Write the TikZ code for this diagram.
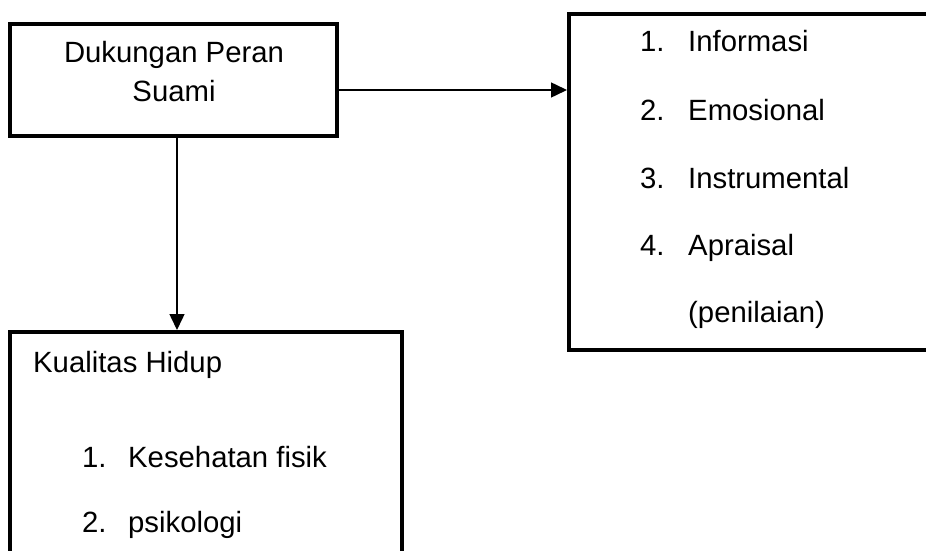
\documentclass[tikz,border=0pt]{standalone}
\usepackage{fontspec}
\setmainfont{Liberation Sans}
\usepackage{tikz}
\usetikzlibrary{arrows.meta}
\tikzstyle{kotak} = [rectangle, draw=black, line width=4pt, inner sep=0pt]
\tikzstyle{teks} = [inner sep=0pt, font=\fontsize{29.3}{35}\selectfont]
\tikzstyle{arrow} = [line width=1.5pt, -{Triangle[length=16pt,width=15pt]}]

\begin{document}
\begin{tikzpicture}[x=1pt, y=-1pt]

    \clip (0,0) rectangle (926,551);

    % Boxes
    \node (dukungan) [kotak, minimum width=327pt, minimum height=112pt] at (173.5,80) {};
    \node (aspek) [kotak, minimum width=368pt, minimum height=335.5pt] at (753,181.75) {};
    \node (kualitas) [kotak, minimum width=392pt, minimum height=235pt] at (206,449.5) {};

    % Texts
    \node (judul1) [teks, anchor=base] at (174,63) {Dukungan Peran};
    \node (judul2) [teks, anchor=base] at (174,101) {Suami};

    \node (n1) [teks, anchor=base west] at (640,52) {1.};
    \node (info) [teks, anchor=base west] at (688,52) {Informasi};
    \node (n2) [teks, anchor=base west] at (640,120) {2.};
    \node (emosi) [teks, anchor=base west] at (688,120) {Emosional};
    \node (n3) [teks, anchor=base west] at (640,188) {3.};
    \node (instru) [teks, anchor=base west] at (688,188) {Instrumental};
    \node (n4) [teks, anchor=base west] at (640,255) {4.};
    \node (apra) [teks, anchor=base west] at (688,255) {Apraisal};
    \node (nilai) [teks, anchor=base west] at (688,322) {(penilaian)};

    \node (hidup) [teks, anchor=base west] at (33,372) {Kualitas Hidup};
    \node (m1) [teks, anchor=base west] at (82,467) {1.};
    \node (fisik) [teks, anchor=base west] at (128,467) {Kesehatan fisik};
    \node (m2) [teks, anchor=base west] at (82,532) {2.};
    \node (psiko) [teks, anchor=base west] at (128,532) {psikologi};

    % Arrows
    \draw [arrow] ([yshift=-10pt]dukungan.east) -- ([yshift=-10pt]dukungan.east -| aspek.west);
    \draw [arrow] ([xshift=3.5pt]dukungan.south) -- ([xshift=3.5pt]dukungan.south |- kualitas.north);

\end{tikzpicture}
\end{document}
